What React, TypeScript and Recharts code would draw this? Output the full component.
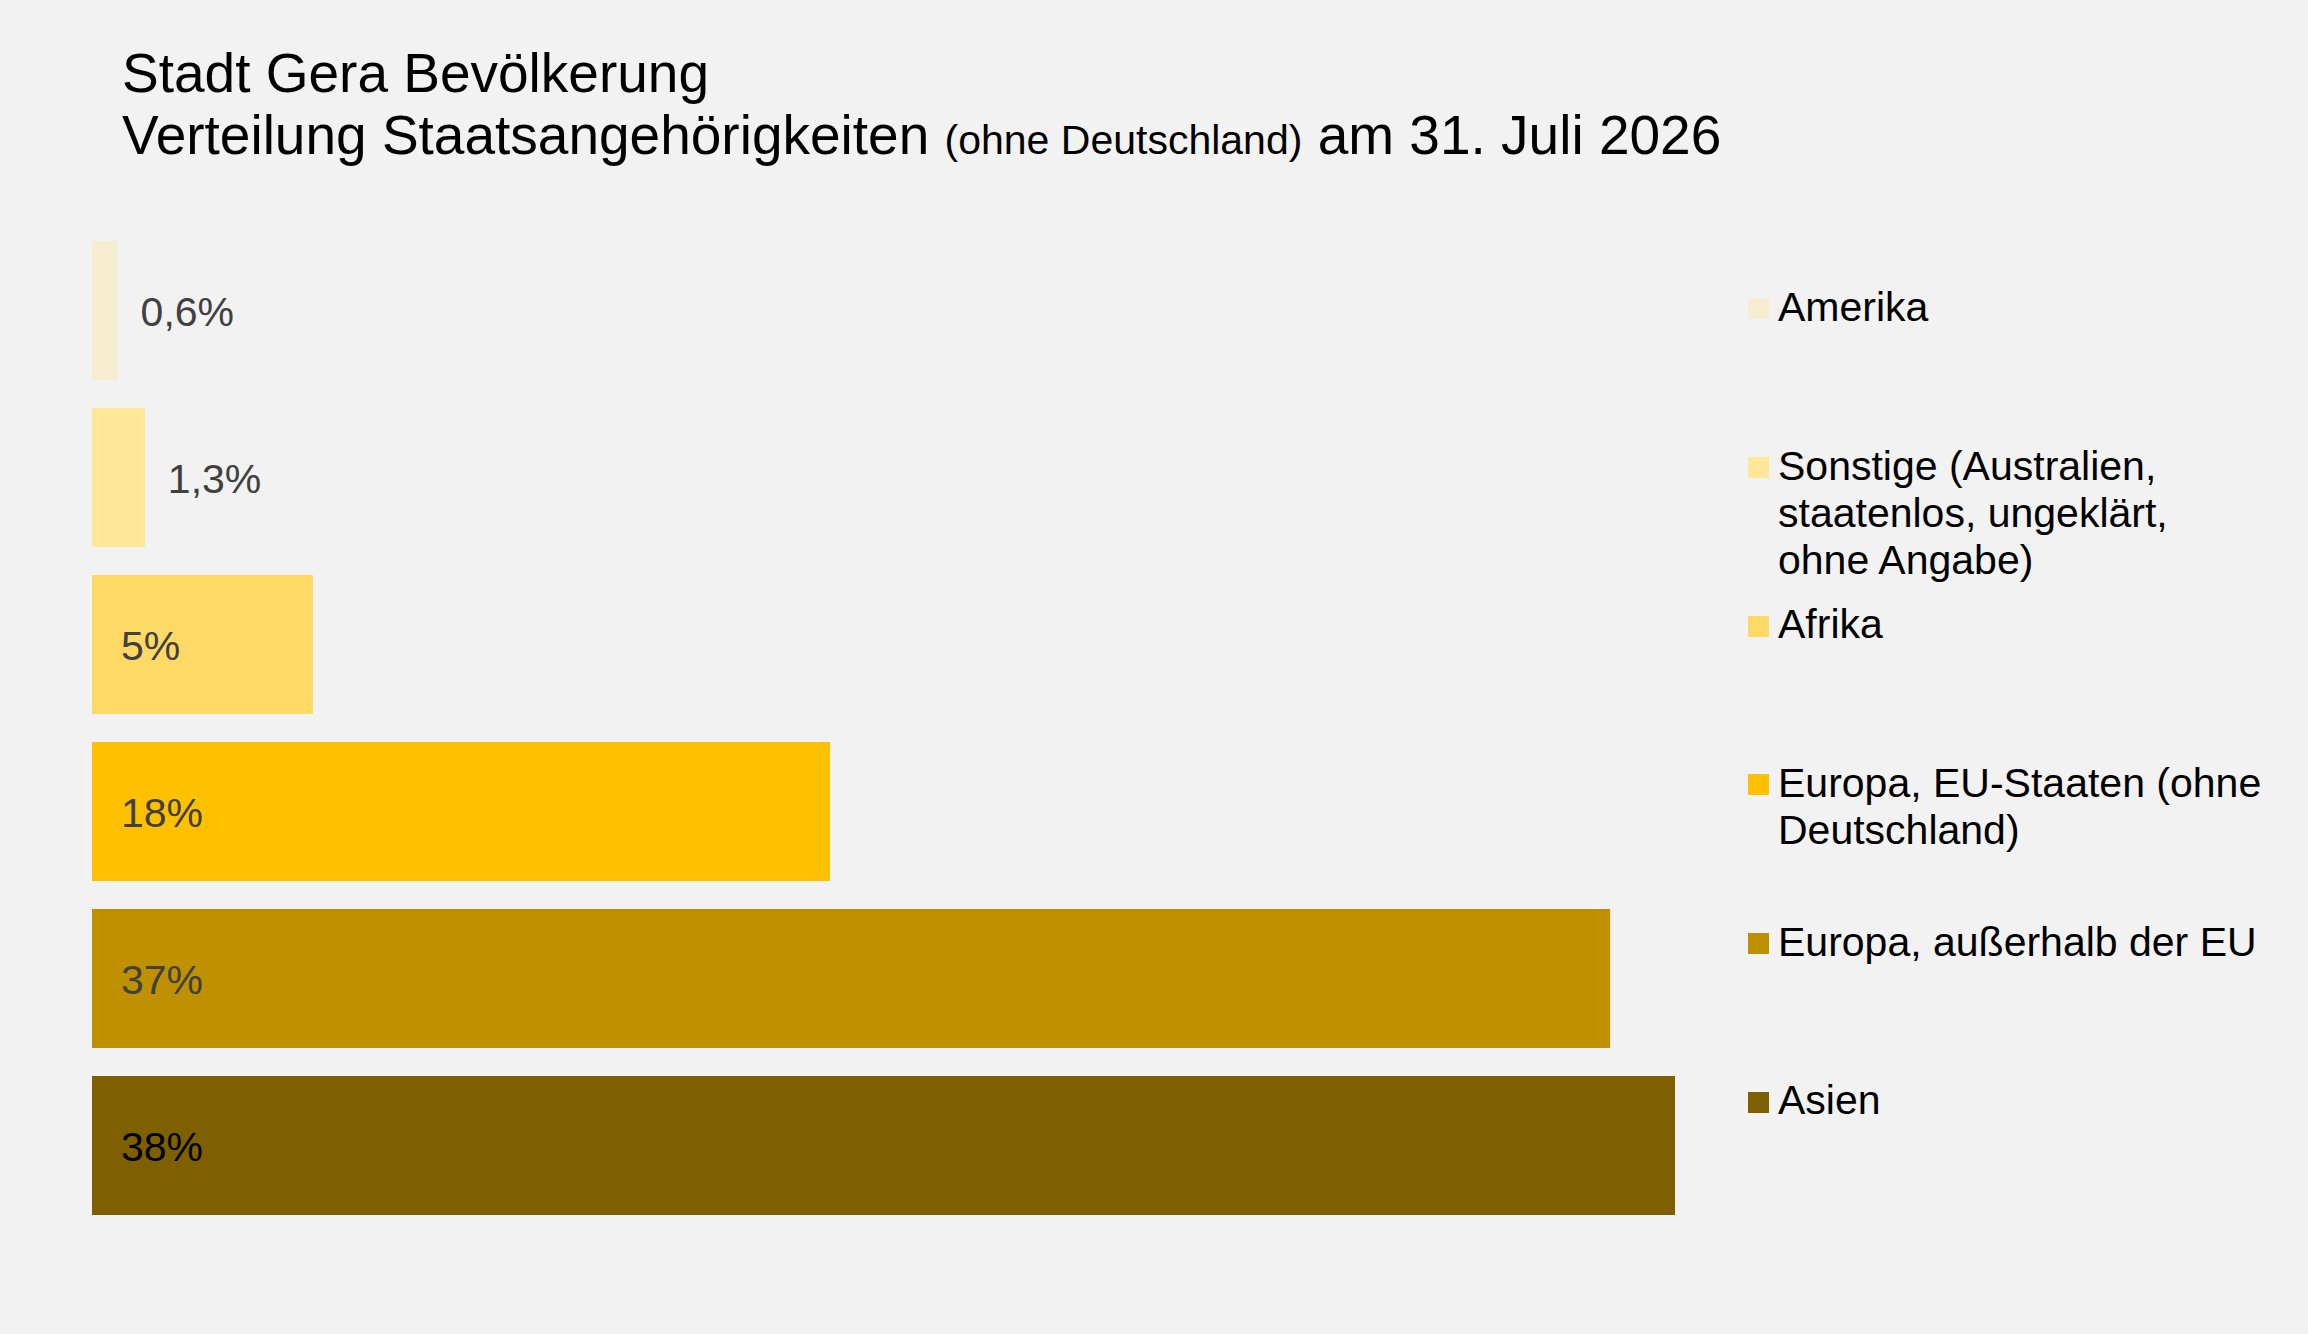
import { BarChart, Bar, XAxis, YAxis, Cell, LabelList, Legend } from 'recharts';

const CATEGORIES = [
    'Amerika',
    'Sonstige (Australien, staatenlos, ungeklärt, ohne Angabe)',
    'Afrika',
    'Europa, EU-Staaten (ohne Deutschland)',
    'Europa, außerhalb der EU',
    'Asien',
];
const SHARES = [0.62, 1.28, 5.35, 17.87, 36.76, 38.33]; // Anteil in %

const COLORS = ['#f6edd0', '#ffe699', '#ffd966', '#ffc000', '#bf9000', '#7f6000'];
const LABEL_COLORS = ['#404040', '#404040', '#404040', '#404040', '#404040', '#000000'];

const FONT = '"Liberation Sans", Arial, sans-serif';

const data = CATEGORIES.map((name, i) => ({ name, value: SHARES[i] }));

const formatShare = (v: number) =>
    v < 2 ? `${v.toFixed(1).replace('.', ',')}%` : `${Math.round(v)}%`;

// Kleine Balken: Beschriftung rechts daneben, sonst innen am Anfang
const ShareLabel = (props: any) => {
    const { x, y, width, height, value, index } = props;
    const outside = width < 100;
    const tx = outside ? x + width + 23 : x + 29;
    return (
        <text
            x={tx}
            y={y + height / 2 + 15}
            fill={LABEL_COLORS[index]}
            fontSize={41}
            fontFamily={FONT}
        >
            {formatShare(value)}
        </text>
    );
};

const LegendList = () => (
    <div style={{ fontFamily: FONT, fontSize: 41, lineHeight: '47.3px', color: '#000' }}>
        {CATEGORIES.map((name, i) => (
            <div key={name} style={{ position: 'relative', height: 158.7 }}>
                <span
                    style={{
                        position: 'absolute',
                        left: 0,
                        top: 14.4,
                        width: 21,
                        height: 21,
                        background: COLORS[i],
                    }}
                />
                <div style={{ marginLeft: 30, width: 488 }}>{name}</div>
            </div>
        ))}
    </div>
);

export default function App() {
    return (
        <div
            style={{
                position: 'relative',
                width: 2308,
                height: 1334,
                background: '#f2f2f2',
                fontFamily: FONT,
                overflow: 'hidden',
            }}
        >
            <style>{'body{margin:0}'}</style>
            <div
                style={{
                    position: 'absolute',
                    left: 122,
                    top: 42,
                    fontSize: 55,
                    lineHeight: '62.3px',
                    color: '#000',
                    whiteSpace: 'nowrap',
                }}
            >
                <div>Stadt Gera Bevölkerung</div>
                <div>
                    Verteilung Staatsangehörigkeiten{' '}
                    <span style={{ fontSize: 41, lineHeight: 1 }}>(ohne Deutschland)</span> am 31. Juli 2026
                </div>
            </div>
            <BarChart
                width={2308}
                height={1334}
                data={data}
                layout="vertical"
                margin={{ top: 227, right: 564, bottom: 105, left: 92 }}
                style={{ position: 'absolute', left: 0, top: 0 }}
            >
                <XAxis type="number" domain={[0, 40]} hide />
                <YAxis type="category" dataKey="name" hide />
                <Legend
                    layout="vertical"
                    align="center"
                    verticalAlign="middle"
                    content={LegendList}
                    wrapperStyle={{ left: 1748, top: 284, width: 540, height: 'auto' }}
                />
                <Bar dataKey="value" barSize={139} isAnimationActive={false}>
                    {data.map((entry, index) => (
                        <Cell key={`cell-${index}`} fill={COLORS[index]} />
                    ))}
                    <LabelList dataKey="value" content={ShareLabel} />
                </Bar>
            </BarChart>
        </div>
    );
}
